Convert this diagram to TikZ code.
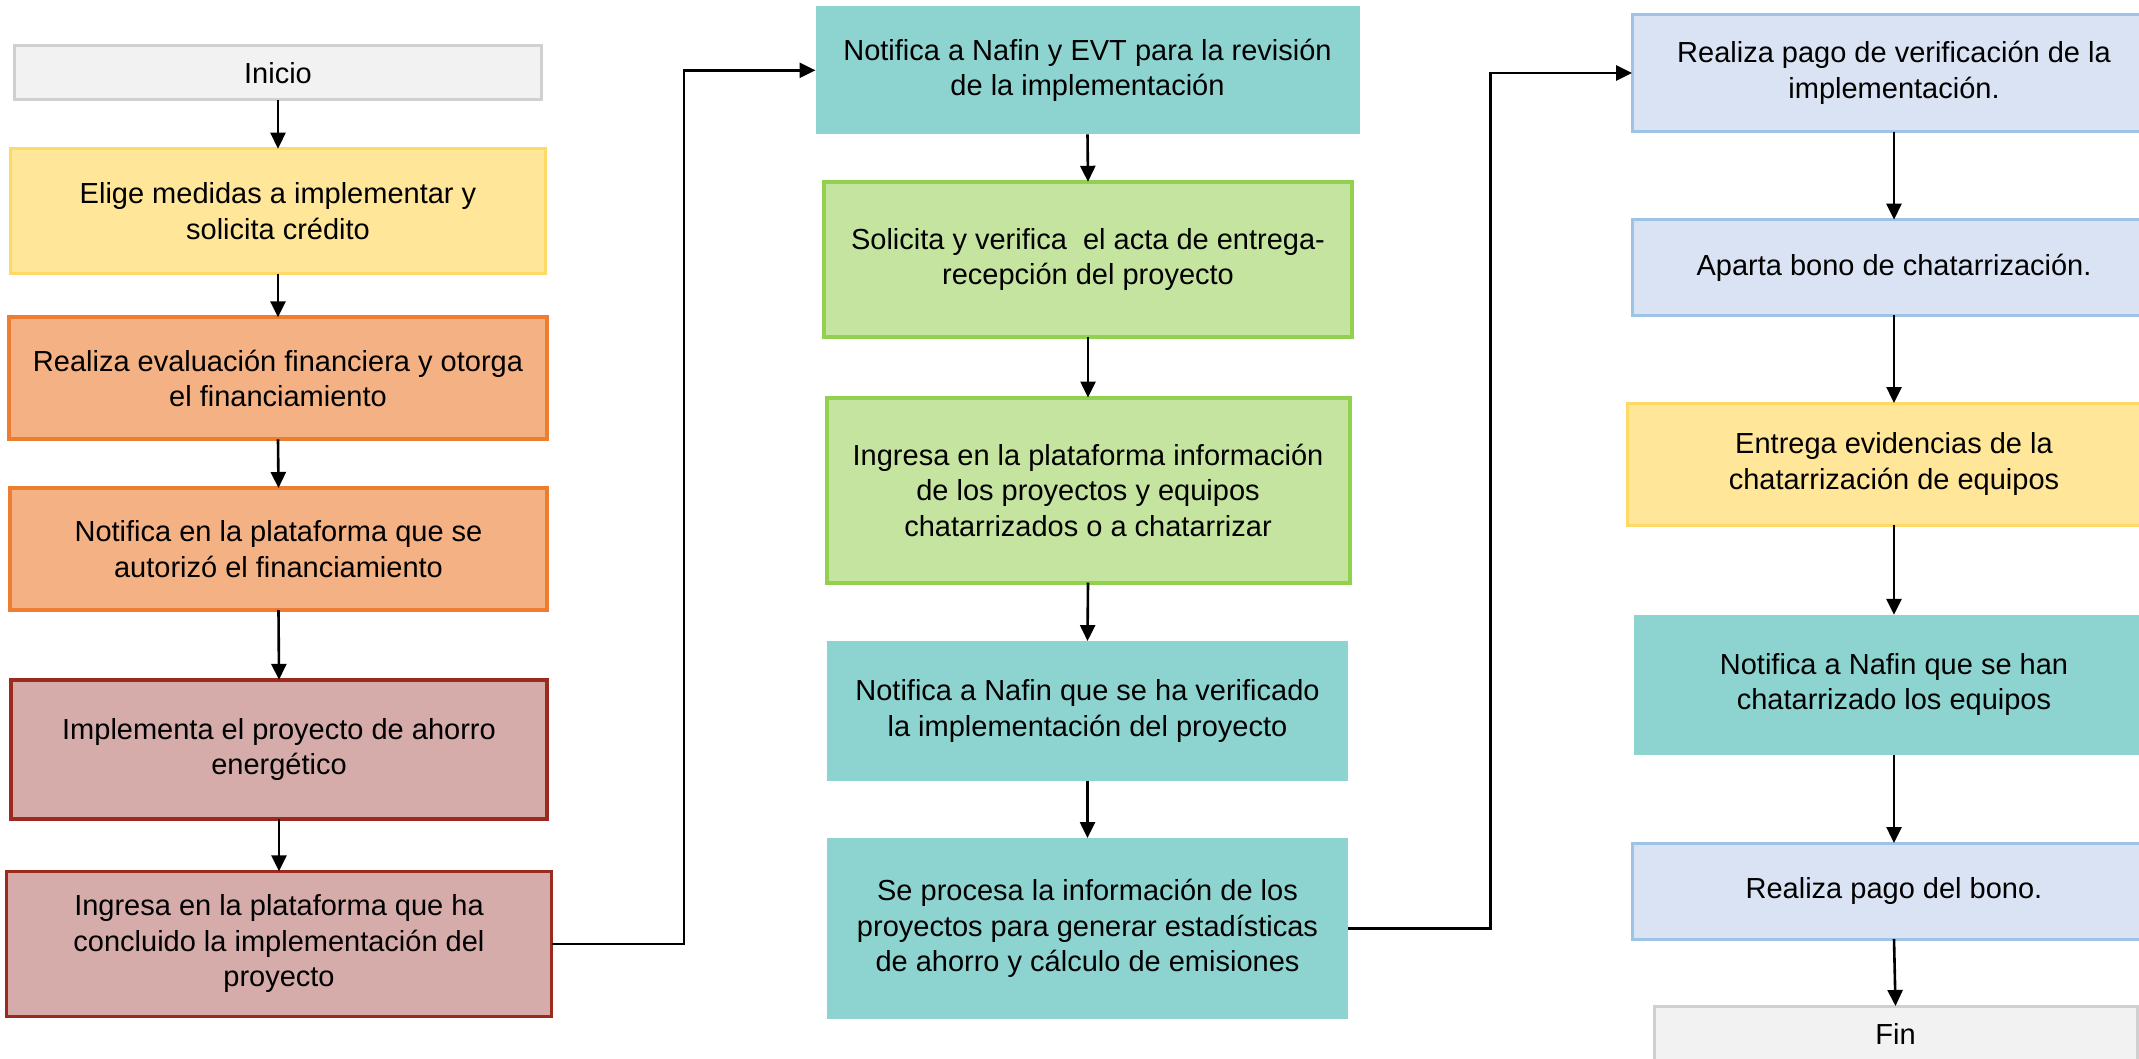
\documentclass[tikz,border=0pt]{standalone}
\usepackage{fontspec}
\setmainfont{Liberation Sans}
\usetikzlibrary{arrows.meta}
\definecolor{grayF}{HTML}{F2F2F2}
\definecolor{grayD}{HTML}{D0D0D0}
\definecolor{yelF}{HTML}{FFE699}
\definecolor{yelD}{HTML}{FFD966}
\definecolor{oraF}{HTML}{F4B183}
\definecolor{oraD}{HTML}{ED7D31}
\definecolor{redF}{HTML}{D5ACA9}
\definecolor{redD}{HTML}{9C2A1F}
\definecolor{tealF}{HTML}{8DD4D1}
\definecolor{greF}{HTML}{C5E49F}
\definecolor{greD}{HTML}{92D050}
\definecolor{bluF}{HTML}{DAE3F3}
\definecolor{bluD}{HTML}{9DC3E6}
\tikzset{
  x=1pt, y=-1pt,
  box/.style={rectangle, inner sep=0pt, outer sep=0pt, align=center,
    font=\fontsize{29}{35.5}\selectfont, text=black},
  graybox/.style={box, fill=grayF, draw=grayD, line width=3pt},
  yelbox/.style={box, fill=yelF, draw=yelD, line width=3pt},
  orabox/.style={box, fill=oraF, draw=oraD, line width=4pt},
  redbox/.style={box, fill=redF, draw=redD, line width=3.5pt},
  tealbox/.style={box, fill=tealF},
  grebox/.style={box, fill=greF, draw=greD, line width=4pt},
  blubox/.style={box, fill=bluF, draw=bluD, line width=3pt},
  arr/.style={-{Triangle[width=15pt,length=16pt]}, line width=2.6pt, black},
}
\begin{document}
\begin{tikzpicture}
\useasboundingbox (0,0) rectangle (2139,1058);
\clip (0,0) rectangle (2139,1058);
\fill[white] (0,0) rectangle (2139,1058);

% left column
\node[graybox, minimum width=527pt, minimum height=54pt] (ini) at (278,72.8) {Inicio};
\node[yelbox, minimum width=535pt, minimum height=125pt] (eli) at (278,211.2) {Elige medidas a implementar y\\solicita crédito};
\node[orabox, minimum width=538pt, minimum height=122pt] (rea) at (278,378.3) {Realiza evaluación financiera y otorga\\el financiamiento};
\node[orabox, minimum width=537pt, minimum height=122pt] (notp) at (278.5,549) {Notifica en la plataforma que se\\autorizó el financiamiento};
\node[redbox, minimum width=536pt, minimum height=139pt] (imp) at (279,749.3) {Implementa el proyecto de ahorro\\energético};
\node[redbox, minimum width=545pt, minimum height=145pt] (ingc) at (279,943.8) {Ingresa en la plataforma que ha\\concluido la implementación del\\proyecto};

% middle column
\node[tealbox, minimum width=544pt, minimum height=128pt] (nevt) at (1087.5,70.3) {Notifica a Nafin y EVT para la revisión\\de la implementación};
\node[grebox, minimum width=528pt, minimum height=155pt] (sol) at (1088,259.3) {Solicita y verifica \ el acta de entrega-\\recepción del proyecto};
\node[grebox, minimum width=523pt, minimum height=185pt] (ingi) at (1088,490) {Ingresa en la plataforma información\\de los proyectos y equipos\\chatarrizados o a chatarrizar};
\node[tealbox, minimum width=521pt, minimum height=139.5pt] (nver) at (1087.5,710.8) {Notifica a Nafin que se ha verificado\\la implementación del proyecto};
\node[tealbox, minimum width=521pt, minimum height=181pt] (proc) at (1087.5,928.5) {Se procesa la información de los\\proyectos para generar estadísticas\\de ahorro y cálculo de emisiones};

% right column
\node[blubox, minimum width=524pt, minimum height=117.6pt] (rpv) at (1894,73) {Realiza pago de verificación de la\\implementación.};
\node[blubox, minimum width=524pt, minimum height=95.7pt] (apa) at (1894,267.5) {Aparta bono de chatarrización.};
\node[yelbox, minimum width=533pt, minimum height=122pt] (ent) at (1894,464) {Entrega evidencias de la\\chatarrización de equipos};
\node[tealbox, minimum width=521pt, minimum height=139.8pt] (nhan) at (1894,684.7) {Notifica a Nafin que se han\\chatarrizado los equipos};
\node[blubox, minimum width=524pt, minimum height=96pt] (rpb) at (1894,891) {Realiza pago del bono.};
\node[graybox, minimum width=483pt, minimum height=56pt] (fin) at (1895.5,1034) {Fin};

% vertical arrows
\draw[arr] (ini.south) -- (eli.north);
\draw[arr] (eli.south) -- (rea.north);
\draw[arr] (rea.south) -- (notp.north);
\draw[arr] (notp.south) -- (imp.north);
\draw[arr] (imp.south) -- (ingc.north);
\draw[arr] (nevt.south) -- (sol.north);
\draw[arr] (sol.south) -- (ingi.north);
\draw[arr] (ingi.south) -- (nver.north);
\draw[arr] (nver.south) -- (proc.north);
\draw[arr] (rpv.south) -- (apa.north);
\draw[arr] (apa.south) -- (ent.north);
\draw[arr] (ent.south) -- (nhan.north);
\draw[arr] (nhan.south) -- (rpb.north);
\draw[arr] (rpb.south) -- (fin.north);

% elbow connectors
\coordinate (j1) at (684,943.8);
\coordinate (j2) at (1490.5,928.5);
\draw[arr] (ingc.east) -- (j1) |- (nevt.west);
\draw[arr] (proc.east) -- (j2) |- (rpv.west);
\end{tikzpicture}
\end{document}
